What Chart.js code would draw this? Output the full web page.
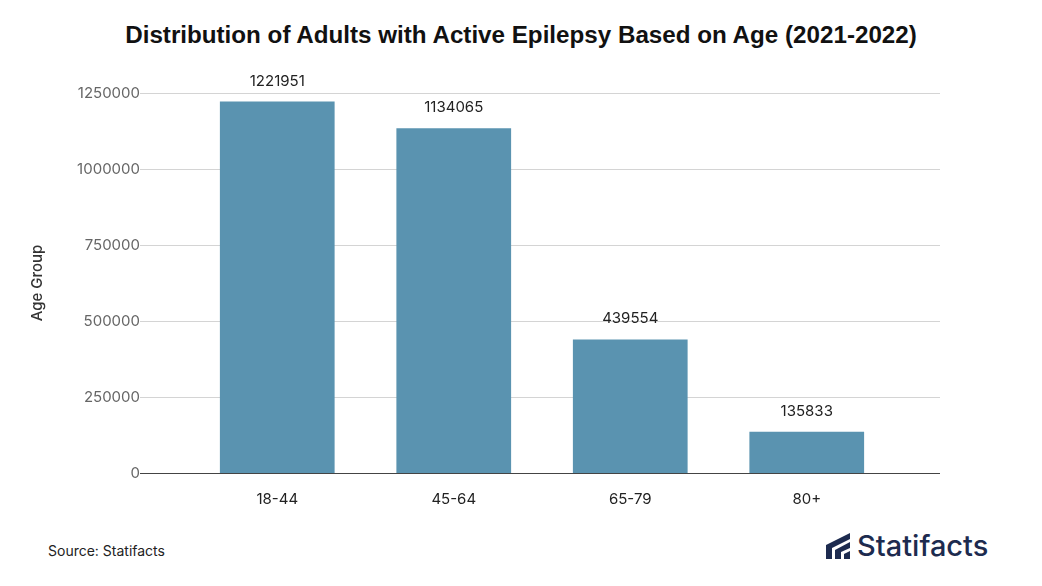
<!DOCTYPE html>
<html><head><meta charset="utf-8">
<script src="https://cdn.jsdelivr.net/npm/chart.js@4"></script>
<style>
body{margin:0;background:#fff;font-family:Inter,"Noto Sans",sans-serif;}
#wrap{position:relative;width:1042px;height:586px;}
h1{position:absolute;top:21px;left:0;width:1042px;text-align:center;margin:0;font-size:24.2px;font-weight:700;color:#111;font-family:"Liberation Sans",Arial,sans-serif;}
#cv{position:absolute;left:20px;top:70px;}
#src{position:absolute;left:48px;top:542px;font-size:14px;color:#222;}
#logo{position:absolute;left:824px;top:528px;font-size:29px;color:#1d2b4f;font-weight:500;display:flex;align-items:center;}
#logo svg{margin-right:5px;}
</style></head><body>
<div id="wrap">
<h1>Distribution of Adults with Active Epilepsy Based on Age (2021-2022)</h1>
<canvas id="cv" width="920" height="450"></canvas>
<div id="src">Source: Statifacts</div>
<div id="logo"><svg width="28" height="30" viewBox="0 0 28 30"><path d="M2 28 L2 14 L26 2 L26 8 L8 17 L8 28Z" fill="#1d2b4f"/><path d="M11 28 L11 19 L26 11 L26 17 L17 21 L17 28Z" fill="#1d2b4f"/><path d="M20 28 L20 23 L26 20 L26 28Z" fill="#1d2b4f"/></svg>Statifacts</div>
</div>
<script>
const categories=["18-44","45-64","65-79","80+"];
const values=[1221951,1134065,439554,135833];
const ticks=[0,250000,500000,750000,1000000,1250000];
const GL=120, GR=920;
const gridPlugin={id:"grid",beforeDatasetsDraw(c){const ctx=c.ctx,y=c.scales.y;ctx.save();
ticks.forEach(v=>{const py=Math.round(y.getPixelForValue(v))+0.5;ctx.strokeStyle=v===0?"#444":"#d4d4d4";ctx.lineWidth=1;ctx.beginPath();ctx.moveTo(GL,py);ctx.lineTo(GR,py);ctx.stroke();});ctx.restore();}};
const labelPlugin={id:"lbl",afterDatasetsDraw(c){const ctx=c.ctx;ctx.save();ctx.font="15px Inter";ctx.fillStyle="#222";ctx.textAlign="center";
c.getDatasetMeta(0).data.forEach((b,i)=>{ctx.fillText(values[i],b.x,b.y-16);});ctx.restore();}};
new Chart(document.getElementById("cv"),{type:"bar",
data:{labels:categories,datasets:[{data:values,backgroundColor:"#5a93b0",categoryPercentage:1,barPercentage:0.65}]},
options:{responsive:false,animation:false,layout:{padding:{top:23,right:45,bottom:3,left:4}},
plugins:{legend:{display:false},tooltip:{enabled:false}},
scales:{x:{grid:{display:false},border:{display:false},ticks:{color:"#222",font:{size:15,family:"Inter"},padding:9}},
y:{min:0,max:1250000,afterBuildTicks(a){a.ticks=ticks.map(v=>({value:v}));},afterFit(a){a.width=165;a.paddingTop=0;a.paddingBottom=0;},grid:{display:false},border:{display:false},
ticks:{color:"#666",font:{size:15,family:"Inter"},padding:41,callback:v=>String(v)},
title:{display:true,text:"Age Group",color:"#333",font:{size:15,family:"Inter",weight:"500"}}}}},
plugins:[gridPlugin,labelPlugin]});
</script></body></html>
